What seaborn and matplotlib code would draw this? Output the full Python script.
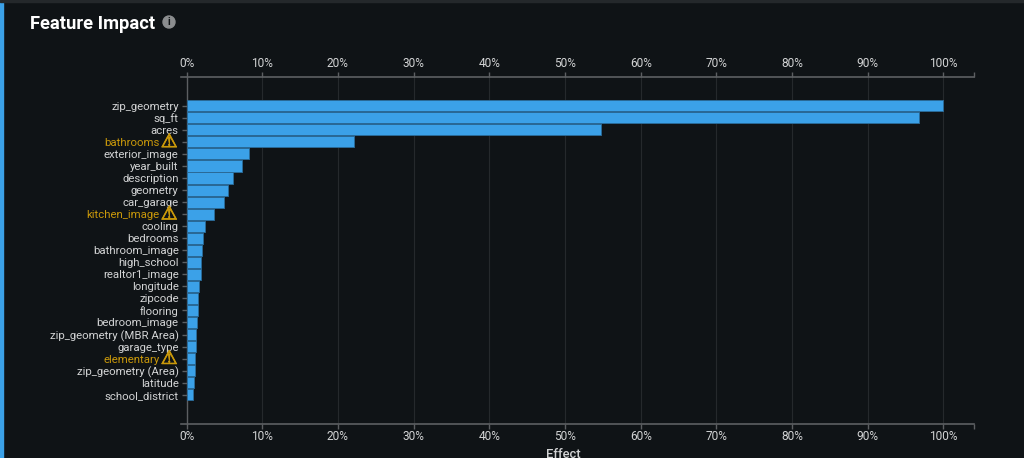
"""Feature Impact bar chart on a dark dashboard panel."""

import matplotlib.patheffects as pe
import matplotlib.pyplot as plt
import matplotlib.transforms as mtrans
import pandas as pd
import seaborn as sns
from matplotlib.patches import Circle, Rectangle

features = [
    "zip_geometry", "sq_ft", "acres", "bathrooms", "exterior_image",
    "year_built", "description", "geometry", "car_garage", "kitchen_image",
    "cooling", "bedrooms", "bathroom_image", "high_school", "realtor1_image",
    "longitude", "zipcode", "flooring", "bedroom_image",
    "zip_geometry (MBR Area)", "garage_type", "elementary",
    "zip_geometry (Area)", "latitude", "school_district",
]
effect = [
    100, 96.8, 54.8, 22.1, 8.3, 7.3, 6.2, 5.5, 4.9, 3.6,
    2.4, 2.2, 2.0, 1.9, 1.9, 1.6, 1.5, 1.5, 1.4, 1.3,
    1.3, 1.1, 1.1, 1.0, 0.85,
]
warned = ["bathrooms", "kitchen_image", "elementary"]
percent_ticks = [0, 10, 20, 30, 40, 50, 60, 70, 80, 90, 100]

BG = "#0f1316"
BLUE = "#3ba1e8"
EDGE = "#2a6a97"
GOLD = "#c9980a"
TEXT = "#d2d3d4"
AXIS = "#5c5f62"
GRID = "#25292c"

sns.set_theme(style="dark", rc={"axes.facecolor": BG, "figure.facecolor": BG})
plt.rcParams["font.family"] = ["Roboto", "DejaVu Sans"]

W, H = 1024, 458
fig = plt.figure(figsize=(W / 100, H / 100), dpi=100)
left, right, top, bottom = 186.5, 974, 76.5, 424
ax = fig.add_axes([left / W, 1 - bottom / H, (right - left) / W, (bottom - top) / H])

df = pd.DataFrame({"feature": features, "effect": effect})
sns.barplot(data=df, y="feature", x="effect", color=BLUE, saturation=1, width=0.92,
            edgecolor=EDGE, linewidth=0.7, ax=ax, zorder=3)

ax.set_xlim(0, 104.03)
ax.set_ylim(26.43, -2.43)
ax.set_xlabel("")
ax.set_ylabel("")

# grid and axis lines
ax.set_xticks(percent_ticks)
ax.set_xticklabels([f"{p}%" for p in percent_ticks])
ax.set_xticks([104.03], minor=True)
ax.grid(True, axis="x", color=GRID, linewidth=0.8, zorder=0)
ax.grid(False, axis="y")
ax.tick_params(axis="x", which="both", top=True, bottom=True, labeltop=True, labelbottom=True,
               length=3.5, width=1, color=AXIS, labelcolor=TEXT, labelsize=8.6, pad=1)
ax.tick_params(axis="y", left=True, length=3.6, width=1, color=AXIS, labelcolor=TEXT,
               labelsize=8.2, pad=2)
for side in ["top", "bottom"]:
    ax.spines[side].set_color(AXIS)
    ax.spines[side].set_linewidth(1.2)
    ax.spines[side].set_bounds(-0.75, 104.03)
ax.spines["left"].set_color(AXIS)
ax.spines["left"].set_linewidth(1)
ax.spines["right"].set_visible(False)

# flagged features: gold label shifted left with a warning sign
shift = mtrans.ScaledTranslation(-19 / 100, 0, fig.dpi_scale_trans)
for label, name in zip(ax.get_yticklabels(), features):
    if name in warned:
        label.set_color(GOLD)
        label.set_transform(label.get_transform() + shift)
        ax.annotate("\u26a0", xy=(0, features.index(name)), xycoords=("axes fraction", "data"),
                    xytext=(-12.5, 0.2), textcoords="offset points", ha="center", va="center",
                    color=GOLD, fontsize=13.5, family="DejaVu Sans", annotation_clip=False,
                    path_effects=[pe.withStroke(linewidth=0.6, foreground=GOLD)])

fig.text(30 / W, 1 - 23.8 / H, "Feature Impact", color="white", fontsize=13.2,
         fontweight="bold", va="center", ha="left")
fig.text(563 / W, 1 - 454 / H, "Effect", color=TEXT, fontsize=9.4, fontweight="medium",
         va="center", ha="center")

# info icon and the blue panel stripe, in pixel coordinates
overlay = fig.add_axes([0, 0, 1, 1], facecolor="none")
overlay.set_xlim(0, W)
overlay.set_ylim(H, 0)
overlay.axis("off")
overlay.add_patch(Circle((169, 22), 6, color="#8b8d8f"))
overlay.text(169, 22.3, "i", color=BG, fontsize=7.5, fontweight="bold", ha="center", va="center")
overlay.add_patch(Rectangle((0, 0), 3.2, H, color=BLUE))
overlay.add_patch(Rectangle((0, 0), W, 1.5, color="#24282b"))

fig.savefig("out.png", dpi=100, facecolor=BG)
